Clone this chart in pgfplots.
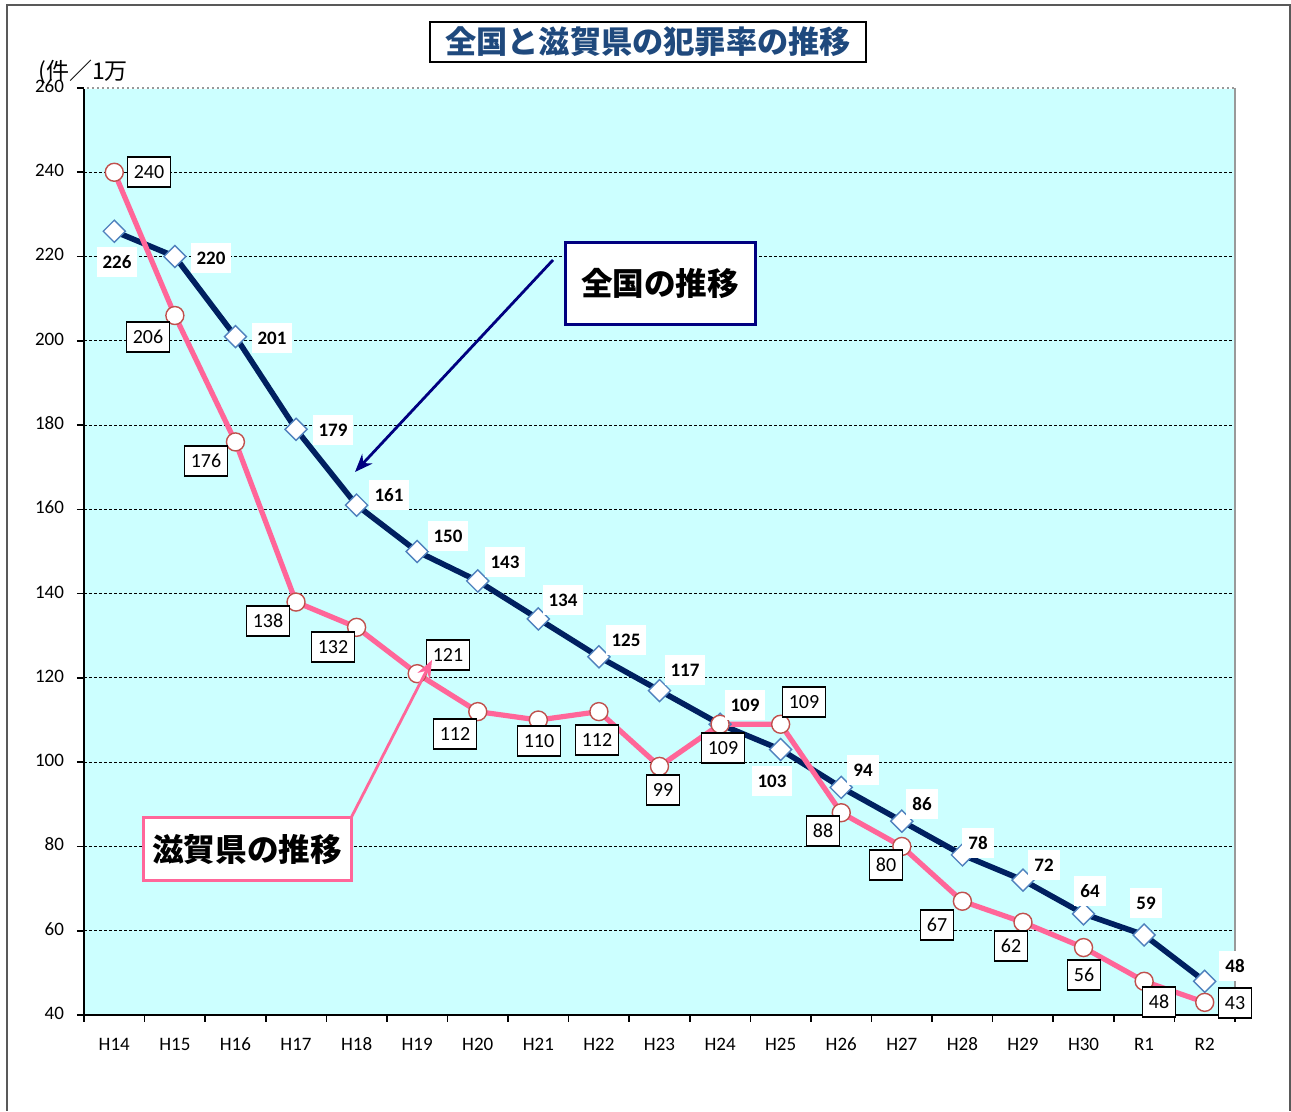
\documentclass[border=0pt]{standalone}
\usepackage{pgfplots}
\pgfplotsset{compat=1.18}
\usetikzlibrary{arrows.meta}
\usepackage{fontspec}
\setmainfont{Carlito}
\newfontfamily\jp{Noto Sans CJK JP}
\definecolor{bgc}{RGB}{204,255,255}
\definecolor{navyl}{RGB}{0,32,96}
\definecolor{dia}{RGB}{79,129,189}
\definecolor{pinkl}{RGB}{255,102,153}
\definecolor{circ}{RGB}{192,80,77}
\definecolor{titleblue}{RGB}{31,73,125}
\definecolor{arrowblue}{RGB}{0,0,128}
\begin{document}
\begin{tikzpicture}
\begin{scope}[x=0.5pt,y=-0.5pt,shift={(-42pt,507.5pt)}]
\path[fill=white] (0,0) rectangle (1291,1111);
\draw[line width=1pt,color=black!65] (7,1111) -- (7,5) -- (1289.5,5) -- (1289.5,1111);
\end{scope}
\begin{axis}[at={(0,0)}, anchor=south west, scale only axis,
  width=575.5pt, height=463.5pt,
  xmin=-0.5, xmax=18.5, ymin=40, ymax=260,
  axis background/.style={fill=bgc},
  axis x line*=bottom, axis y line*=left,
  axis line style={line width=1pt, black, -},
  xtick={0,...,18},
  xticklabels={H14,H15,H16,H17,H18,H19,H20,H21,H22,H23,H24,H25,H26,H27,H28,H29,H30,R1,R2},
  major x tick style={draw=none},
  minor xtick={-0.5,0.5,...,18.5},
  minor x tick style={draw=black, line width=0.8pt},
  minor tick length=3.5pt,
  ytick={40,60,...,260},
  tick align=outside,
  major tick length=3.5pt,
  major y tick style={draw=black, line width=0.8pt},
  ymajorgrids,
  major grid style={black, line width=0.5pt, dash pattern=on 1.5pt off 1pt},
  tick label style={font=\fontsize{9.5}{11}\selectfont},
  typeset ticklabels with strut,
  xticklabel style={yshift=-3pt},
  yticklabel style={xshift=-3pt},
  /pgf/number format/assume math mode=true,
]
\addplot[navyl, line width=2.8pt, mark=square*, mark size=3.9pt,
  mark options={fill=white, draw=dia, line width=0.7pt, rotate=45}]
  coordinates {(0,226)(1,220)(2,201)(3,179)(4,161)(5,150)(6,143)(7,134)(8,125)(9,117)(10,109)(11,103)(12,94)(13,86)(14,78)(15,72)(16,64)(17,59)(18,48)};
\addplot[pinkl, line width=2.6pt, mark=*, mark size=4.5pt,
  mark options={fill=white, draw=circ, line width=0.7pt}]
  coordinates {(0,240)(1,206)(2,176)(3,138)(4,132)(5,121)(6,112)(7,110)(8,112)(9,99)(10,109)(11,109)(12,88)(13,80)(14,67)(15,62)(16,56)(17,48)(18,43)};
\end{axis}
\begin{scope}[x=0.5pt,y=-0.5pt,shift={(-42pt,507.5pt)},
  nat/.style={fill=white, font=\bfseries\fontsize{9.5}{11}\selectfont, inner xsep=3pt, inner ysep=1pt, minimum height=15pt},
  shg/.style={fill=white, draw=black, line width=0.6pt, font=\fontsize{10}{12}\selectfont, inner xsep=3pt, inner ysep=1pt, minimum height=15pt}]
\draw[line width=0.8pt, black!40] (84,88) -- (1235,88);
\draw[line width=0.8pt, white, dash pattern=on 1.5pt off 1pt] (84,88) -- (1235,88);
\draw[line width=0.8pt, black!40] (1235,88) -- (1235,1015);
% national labels
\node[nat] at (117,262) {226};
\node[nat] at (211,258) {220};
\node[nat] at (272,338) {201};
\node[nat] at (333,430) {179};
\node[nat] at (389,495) {161};
\node[nat] at (448,536) {150};
\node[nat] at (505,562) {143};
\node[nat] at (563,600) {134};
\node[nat] at (626,640) {125};
\node[nat] at (685,670) {117};
\node[nat] at (745,705) {109};
\node[nat] at (772,781) {103};
\node[nat] at (863,770) {94};
\node[nat] at (922,804) {86};
\node[nat] at (978,843) {78};
\node[nat] at (1044,865) {72};
\node[nat] at (1090,891) {64};
\node[nat] at (1146,903) {59};
\node[nat] at (1235,966) {48};
% shiga labels
\node[shg] at (149,172) {240};
\node[shg] at (148,337) {206};
\node[shg] at (206,461) {176};
\node[shg] at (268,621) {138};
\node[shg] at (333,647) {132};
\node[shg] at (448,655) {121};
\node[shg] at (455,734) {112};
\node[shg] at (539,741) {110};
\node[shg] at (597,740) {112};
\node[shg] at (663,790) {99};
\node[shg] at (723,748) {109};
\node[shg] at (804,702) {109};
\node[shg] at (823,831) {88};
\node[shg] at (886,865) {80};
\node[shg] at (937,925) {67};
\node[shg] at (1011,946) {62};
\node[shg] at (1084,975) {56};
\node[shg] at (1159,1002) {48};
\node[shg] at (1235,1003) {43};
% unit label
\node[anchor=west, inner sep=0pt, font=\jp\fontsize{11.5}{13}\selectfont] at (38,72) {(件／1万};
% title
\node[draw=black, line width=0.8pt, fill=white, text=titleblue, minimum width=218pt, minimum height=20pt, inner sep=0pt,
  font=\jp\bfseries\fontsize{15.6}{19}\selectfont] at (648,42) {全国と滋賀県の犯罪率の推移};
% annotation boxes
\draw[arrowblue, line width=1.4pt, -{Stealth[length=9pt,width=7pt]}] (553,260) -- (355,472);
\node[draw=arrowblue, line width=1.5pt, fill=white, minimum width=95pt, minimum height=41pt, inner sep=0pt,
  font=\jp\bfseries\fontsize{15.8}{18}\selectfont] at (660,284) {全国の推移};
\draw[pinkl, line width=1.4pt, -{Stealth[length=9pt,width=7pt]}] (351,818) -- (432,660);
\node[draw=pinkl, line width=1.5pt, fill=white, minimum width=104pt, minimum height=31.5pt, inner sep=0pt,
  font=\jp\bfseries\fontsize{15.8}{18}\selectfont] at (247,849.5) {滋賀県の推移};
\end{scope}
\end{tikzpicture}
\end{document}
